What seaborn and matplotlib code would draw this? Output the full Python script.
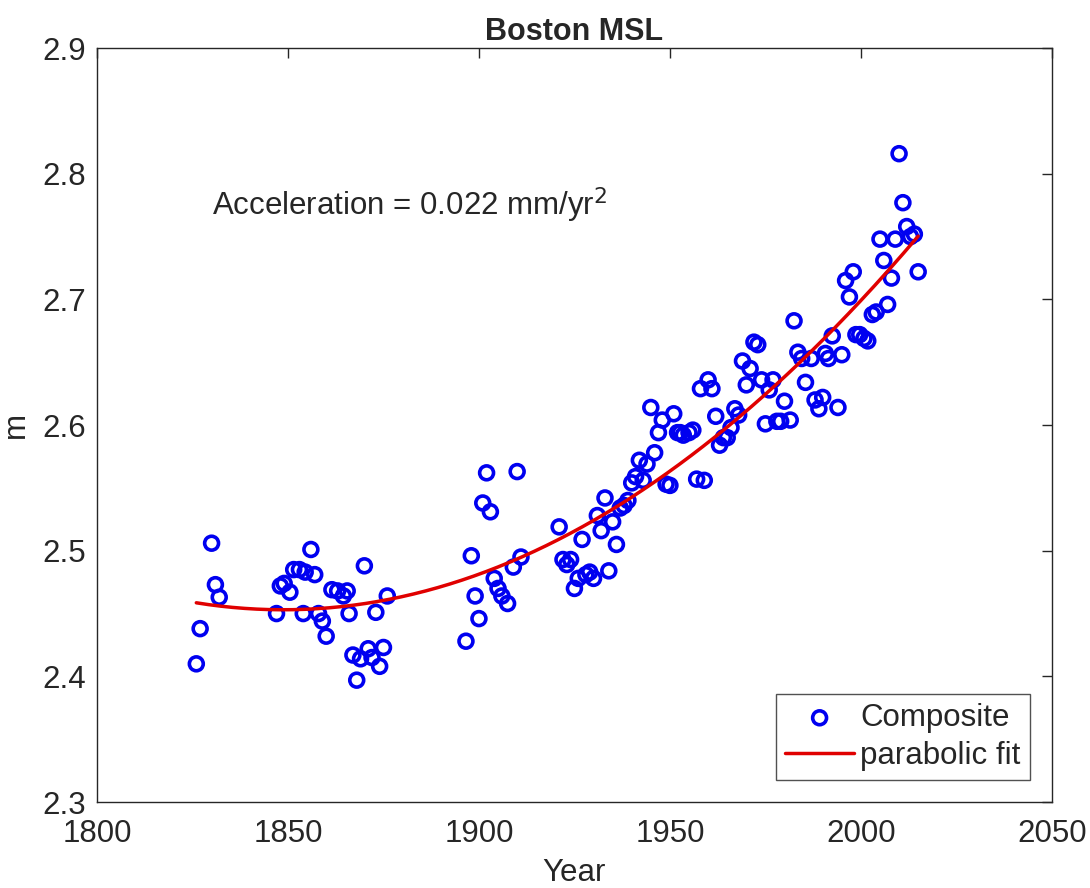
import numpy as np
import pandas as pd
import matplotlib.pyplot as plt
import seaborn as sns

# Composite annual mean sea level at Boston
years = [1826, 1827, 1830, 1831, 1832,
         1847, 1848, 1849, 1850.5, 1851.5, 1853, 1854, 1854.5, 1856, 1857,
         1858, 1859, 1860, 1861.5, 1863, 1864.5, 1865.5, 1866, 1867, 1868,
         1869, 1870, 1871, 1872, 1873, 1874, 1875, 1876,
         1896.6, 1898, 1899, 1900, 1901, 1902, 1903, 1904, 1905, 1906,
         1907.5, 1909, 1910, 1911,
         1921, 1922, 1923, 1924, 1925, 1926, 1927, 1928, 1929, 1930,
         1931, 1932, 1933, 1934, 1935, 1936, 1937, 1938, 1939, 1940,
         1941, 1942, 1943, 1944, 1945, 1946, 1947, 1948, 1949, 1950,
         1951, 1952, 1952.7, 1953.5, 1955, 1956, 1957, 1958, 1959, 1960,
         1961, 1962, 1963, 1964, 1965, 1966, 1967, 1968, 1969, 1970,
         1971, 1972, 1973, 1974, 1975, 1976, 1977, 1978, 1979, 1980,
         1981.5, 1982.5, 1983.5, 1984.5, 1985.5, 1987, 1988, 1989, 1990, 1990.7,
         1991.5, 1992.5, 1994, 1995, 1996, 1997, 1998, 1998.7, 1999.7, 2000.8,
         2001.8, 2003, 2004, 2005, 2006, 2007, 2008, 2009, 2010, 2011,
         2012, 2013, 2014, 2015]
msl = [2.410, 2.438, 2.506, 2.473, 2.463,
       2.450, 2.472, 2.474, 2.467, 2.485, 2.485, 2.450, 2.483, 2.501, 2.481,
       2.450, 2.444, 2.432, 2.469, 2.468, 2.464, 2.468, 2.450, 2.417, 2.397,
       2.414, 2.488, 2.422, 2.415, 2.451, 2.408, 2.423, 2.464,
       2.428, 2.496, 2.464, 2.446, 2.538, 2.562, 2.531, 2.478, 2.470, 2.464,
       2.458, 2.487, 2.563, 2.495,
       2.519, 2.493, 2.489, 2.493, 2.470, 2.478, 2.509, 2.481, 2.483, 2.478,
       2.528, 2.516, 2.542, 2.484, 2.523, 2.505, 2.534, 2.536, 2.540, 2.554,
       2.559, 2.572, 2.556, 2.569, 2.614, 2.578, 2.594, 2.604, 2.553, 2.552,
       2.609, 2.594, 2.594, 2.592, 2.594, 2.596, 2.557, 2.629, 2.556, 2.636,
       2.629, 2.607, 2.584, 2.590, 2.590, 2.598, 2.613, 2.608, 2.651, 2.632,
       2.645, 2.666, 2.664, 2.636, 2.601, 2.628, 2.636, 2.603, 2.603, 2.619,
       2.604, 2.683, 2.658, 2.653, 2.634, 2.653, 2.620, 2.613, 2.622, 2.657,
       2.653, 2.671, 2.614, 2.656, 2.715, 2.702, 2.722, 2.672, 2.672, 2.669,
       2.667, 2.688, 2.690, 2.748, 2.731, 2.696, 2.717, 2.748, 2.816, 2.777,
       2.758, 2.750, 2.752, 2.722]

df = pd.DataFrame({'Year': years, 'm': msl})

# Parabolic fit to the composite
coef = np.polyfit(df['Year'], df['m'], 2)
fit = pd.DataFrame({'Year': np.linspace(df['Year'].min(), df['Year'].max(), 300)})
fit['m'] = np.polyval(coef, fit['Year'])

sns.set_style('white')
plt.rcParams['font.family'] = ['Liberation Sans', 'DejaVu Sans']

fig = plt.figure(figsize=(10.9, 8.88), dpi=100)
ax = fig.add_axes([0.089, 0.0968, 0.876, 0.849])

sns.scatterplot(data=df, x='Year', y='m', ax=ax, marker='o', s=100,
                facecolors='none', edgecolor='#0000f0', linewidth=2.6,
                label='Composite')
sns.lineplot(data=fit, x='Year', y='m', ax=ax, color='#e00000', linewidth=2.5,
             label='parabolic fit')

ax.set_xlim(1800, 2050)
ax.set_ylim(2.3, 2.9)
ax.set_xticks([1800, 1850, 1900, 1950, 2000, 2050])
ax.set_yticks([2.3, 2.4, 2.5, 2.6, 2.7, 2.8, 2.9])
ax.tick_params(direction='in', length=7, width=1, labelsize=22.5, colors='#262626',
               top=True, right=True)
ax.tick_params(axis='x', pad=12)
ax.tick_params(axis='y', pad=8)
for sp in ax.spines.values():
    sp.set_color('#262626')
    sp.set_linewidth(1)

ax.set_xlabel('Year', fontsize=22.5, color='#262626', labelpad=7)
ax.set_ylabel('m', fontsize=22.5, color='#262626', labelpad=8)
ax.set_title('Boston MSL', fontsize=22, fontweight='bold', pad=6)

ax.text(1830, 2.767, 'Acceleration = 0.022 mm/yr$^2$', fontsize=22.5, va='baseline')

leg = ax.legend(loc='lower right', fontsize=22.5, frameon=True, fancybox=False,
                handlelength=2.2, handletextpad=0.2, borderpad=0.3,
                labelspacing=0.25, borderaxespad=0.7)
leg.get_frame().set_edgecolor('#262626')
leg.get_frame().set_linewidth(1)

fig.savefig('out.png', dpi=100)
